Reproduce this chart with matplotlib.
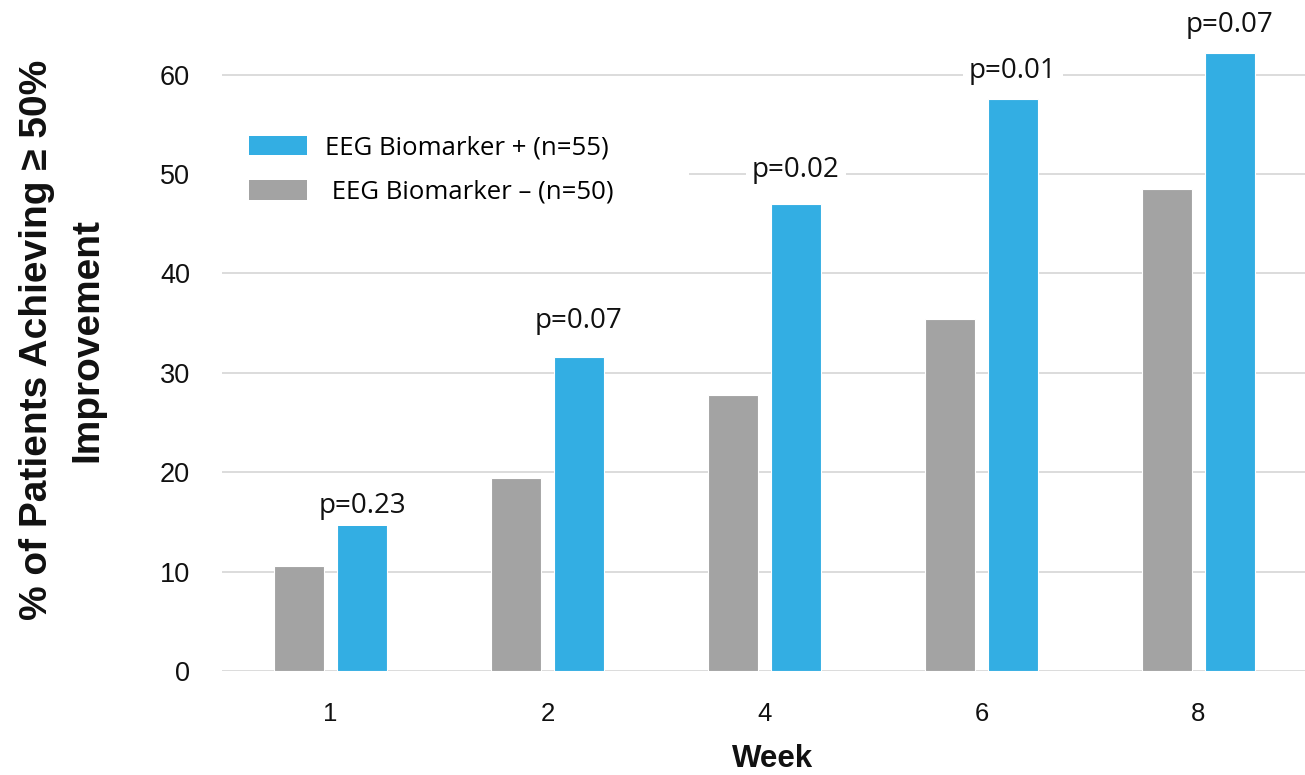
import matplotlib
matplotlib.use("Agg")
import matplotlib.pyplot as plt
import numpy as np
from matplotlib.patches import Rectangle, Patch

plt.rcParams['font.family'] = ['Liberation Sans', 'DejaVu Sans']

weeks = ["1", "2", "4", "6", "8"]
biomarker_neg = [10.6, 19.4, 27.8, 35.4, 48.5]
biomarker_pos = [14.8, 31.6, 47.0, 57.6, 62.2]
p_values = ["p=0.23", "p=0.07", "p=0.02", "p=0.01", "p=0.07"]
label_neg = "EEG Biomarker \u2013 (n=50)"
label_pos = "EEG Biomarker + (n=55)"

BLUE = "#33AEE3"
GRAY = "#A3A3A3"
GRID = "#D9D9D9"
TEXT = "#111111"
SANS2 = ['Open Sans', 'DejaVu Sans']

W, H = 1305, 775
fig = plt.figure(figsize=(W / 100, H / 100), dpi=100)
ax = fig.add_axes([222 / W, 104 / H, 1085 / W, 646 / H])

x = np.arange(len(weeks))
w = 0.23
off = 0.145
ax.bar(x - off, biomarker_neg, width=w, color=GRAY, edgecolor="white", linewidth=0.8, zorder=2)
ax.bar(x + off, biomarker_pos, width=w, color=BLUE, edgecolor="white", linewidth=0.8, zorder=2)

# p-value annotations above the positive-group bars (baseline offsets in points)
p_offsets = [8, 21, 19.5, 15, 15]
for xi, val, txt, dy in zip(x + off, biomarker_pos, p_values, p_offsets):
    ax.annotate(txt, (xi, val), xytext=(0, dy), textcoords="offset points",
                ha="center", va="baseline", fontsize=20, color=TEXT,
                family=SANS2,
                bbox=dict(boxstyle="square,pad=0.22", fc="white", ec="none"),
                zorder=4, annotation_clip=False)

ax.set_xlim(-0.5, len(weeks) - 0.5)
ax.set_ylim(0, 65)
ax.set_yticks(np.arange(0, 61, 10))
ax.set_xticks(x)
ax.set_xticklabels(weeks)
ax.yaxis.grid(True, color=GRID, linewidth=1.3, zorder=0)
ax.set_axisbelow(True)
for s in ax.spines.values():
    s.set_visible(False)
ax.tick_params(axis="both", length=0, colors=TEXT)
ax.tick_params(axis="y", pad=23, labelsize=19.5)
ax.tick_params(axis="x", pad=22, labelsize=18.5)

ax.set_xlabel("Week", fontsize=22.5, fontweight="bold", color=TEXT)
ax.xaxis.set_label_coords(0.507, -0.113)

fig.text(62 / W, 435 / H, "% of Patients Achieving \u2265 50%\nImprovement",
         rotation=90, ha="center", va="center", fontsize=28,
         fontweight="bold", linespacing=1.5, color=TEXT)

# white panel behind the legend
ax.add_patch(Rectangle((0.0, 0.73), 0.43, 0.08, transform=ax.transAxes,
                       fc="white", ec="none", zorder=1))

handles = [Patch(fc=BLUE, ec="none"), Patch(fc=GRAY, ec="none")]
ax.legend(handles, [label_pos, " " + label_neg], loc="upper left",
          bbox_to_anchor=(0.025, 0.829), frameon=False,
          prop={'family': SANS2, 'size': 18.5},
          handlelength=2.26, handleheight=0.8, handletextpad=0.7,
          labelspacing=0.75, borderaxespad=0, borderpad=0)

fig.savefig("out.png", dpi=100)
